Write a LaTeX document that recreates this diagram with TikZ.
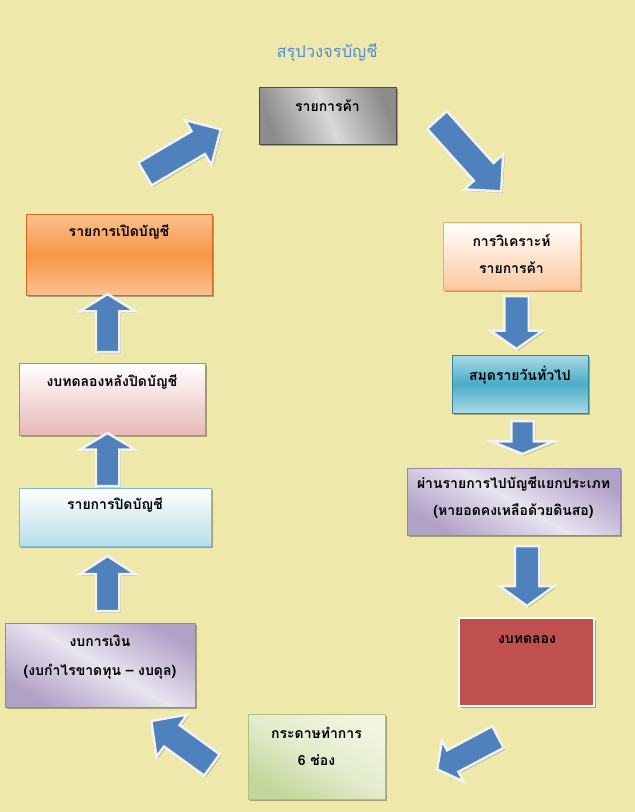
\documentclass[tikz,border=0pt]{standalone}
\usepackage{fontspec}
\newfontfamily\thai[Script=Thai]{Loma}
\usetikzlibrary{shapes.arrows,shadows}
\definecolor{bg}{RGB}{238,232,170}
\definecolor{titleblue}{RGB}{84,141,212}
\definecolor{arrowblue}{RGB}{79,129,189}
\definecolor{arrowline}{RGB}{242,242,242}
\definecolor{peach}{RGB}{250,200,160}
\definecolor{peachline}{RGB}{240,170,110}
\definecolor{tealD}{RGB}{75,172,198}
\definecolor{tealL}{RGB}{170,218,230}
\definecolor{tealline}{RGB}{49,133,156}
\definecolor{lavD}{RGB}{178,161,199}
\definecolor{lavL}{RGB}{232,228,240}
\definecolor{lavline}{RGB}{150,130,180}
\definecolor{redbox}{RGB}{192,80,77}
\definecolor{greenD}{RGB}{195,214,155}
\definecolor{greenL}{RGB}{240,245,225}
\definecolor{greenline}{RGB}{170,195,120}
\definecolor{lblue}{RGB}{183,222,232}
\definecolor{lblueline}{RGB}{120,190,215}
\definecolor{pink}{RGB}{230,185,184}
\definecolor{pinkline}{RGB}{215,120,120}
\definecolor{orangeD}{RGB}{247,150,70}
\definecolor{orangeL}{RGB}{250,192,144}
\definecolor{orangeline}{RGB}{210,105,20}
\begin{document}
\begin{tikzpicture}[x=1pt,y=-1pt,
  box/.style={rectangle, inner sep=0pt, outer sep=0pt, line width=0.8pt,
    drop shadow={shadow xshift=2pt, shadow yshift=-2pt, fill=black, opacity=0.3}},
  txt/.style={align=center, font=\thai\bfseries\fontsize{14}{27}\selectfont, inner sep=0pt},
  barrow/.style={single arrow, draw=arrowline, line width=2.5pt, fill=arrowblue,
    inner xsep=0pt, outer sep=0pt, anchor=tail,
    drop shadow={shadow xshift=1.5pt, shadow yshift=-1.5pt, fill=black, opacity=0.25}}
]
\useasboundingbox (0,0) rectangle (635,812);
\fill[bg] (0,0) rectangle (635,812);

\node[font=\thai\fontsize{16.5}{18}\selectfont, text=titleblue] (title) at (327,53) {สรุปวงจรบัญชี};

% boxes
\node[box, draw=gray!60!black, left color=black!45, right color=black!45, middle color=black!15, shading angle=-67,
  minimum width=137pt, minimum height=57pt] (b1) at (327.5,115.5) {};
\node[box, draw=peachline, top color=white, bottom color=peach, minimum width=137pt, minimum height=68pt] (b2) at (511.5,256) {};
\node[box, draw=tealline, top color=tealL, bottom color=tealL, middle color=tealD, minimum width=136pt, minimum height=58pt] (b3) at (520,384) {};
\node[box, draw=lavline, left color=lavD, right color=lavD, middle color=lavL, shading angle=-30, minimum width=213pt, minimum height=67pt] (b4) at (513.5,501.5) {};
\node[box, draw=white, line width=2.5pt, fill=redbox, minimum width=135pt, minimum height=88pt] (b5) at (526.5,662) {};
\node[box, draw=greenline, left color=greenL, right color=greenD, middle color=greenL!70!greenD, shading angle=-30, minimum width=137pt, minimum height=85pt] (b6) at (316.5,756.5) {};
\node[box, draw=lavline, left color=lavD, right color=lavD, middle color=lavL, shading angle=-30, minimum width=190pt, minimum height=84pt] (b7) at (100,665) {};
\node[box, draw=lblueline, top color=white, bottom color=lblue, minimum width=192pt, minimum height=58pt] (b8) at (115,517) {};
\node[box, draw=pinkline, top color=white, bottom color=pink, minimum width=186pt, minimum height=72pt] (b9) at (112,399) {};
\node[box, draw=orangeline, top color=orangeL, bottom color=orangeL, middle color=orangeD, minimum width=186pt, minimum height=81pt] (b10) at (119,254.5) {};

% texts
\node[txt] (t1) at (327.5,106) {รายการค้า};
\node[txt] (t2) at (511.5,253.5) {การวิเคราะห์\\รายการค้า};
\node[txt] (t3) at (520,375) {สมุดรายวันทั่วไป};
\node[txt] (t4) at (513.5,497.5) {ผ่านรายการไปบัญชีแยกประเภท\\(หายอดคงเหลือด้วยดินสอ)};
\node[txt] (t5) at (527,640) {งบทดลอง};
\node[txt] (t6) at (316.5,746.5) {กระดาษทำการ\\6 ช่อง};
\node[txt, font=\thai\bfseries\fontsize{14}{29}\selectfont] (t7) at (100,657) {งบการเงิน\\(งบกำไรขาดทุน – งบดุล)};
\node[txt] (t8) at (115,505) {รายการปิดบัญชี};
\node[txt] (t9) at (112,382) {งบทดลองหลังปิดบัญชี};
\node[txt] (t10) at (119,232) {รายการเปิดบัญชี};

% block arrows
\node[barrow, rotate=-48, minimum height=96pt, minimum width=50pt, inner ysep=12pt, single arrow head extend=13pt, single arrow tip angle=90] (a1) at (437,120) {};
\node[barrow, rotate=-90, minimum height=53pt, minimum width=50pt, inner ysep=11pt, single arrow head extend=14pt, single arrow tip angle=110] (a2) at (516.5,296) {};
\node[barrow, rotate=-90, minimum height=33pt, minimum width=60pt, inner ysep=10pt, single arrow head extend=20pt, single arrow tip angle=136] (a3) at (522.5,421) {};
\node[barrow, rotate=-90, minimum height=60pt, minimum width=53pt, inner ysep=11pt, single arrow head extend=15pt, single arrow tip angle=108] (a4) at (527,546) {};
\node[barrow, rotate=208, minimum height=69pt, minimum width=45pt, inner ysep=11pt, single arrow head extend=11pt, single arrow tip angle=105] (a5) at (498,737) {};
\node[barrow, rotate=144, minimum height=75pt, minimum width=50pt, inner ysep=12pt, single arrow head extend=13pt, single arrow tip angle=92] (a6) at (212,765) {};
\node[barrow, rotate=90, minimum height=55pt, minimum width=53pt, inner ysep=10.5pt, single arrow head extend=16pt, single arrow tip angle=114] (a7) at (107.5,611) {};
\node[barrow, rotate=90, minimum height=53pt, minimum width=53pt, inner ysep=10.5pt, single arrow head extend=16pt, single arrow tip angle=118] (a8) at (107.5,486) {};
\node[barrow, rotate=90, minimum height=58pt, minimum width=53pt, inner ysep=10.5pt, single arrow head extend=16pt, single arrow tip angle=116] (a9) at (107.5,352) {};
\node[barrow, rotate=30.5, minimum height=88pt, minimum width=50pt, inner ysep=12pt, single arrow head extend=13pt, single arrow tip angle=90] (a10) at (145,174) {};
\end{tikzpicture}
\end{document}
